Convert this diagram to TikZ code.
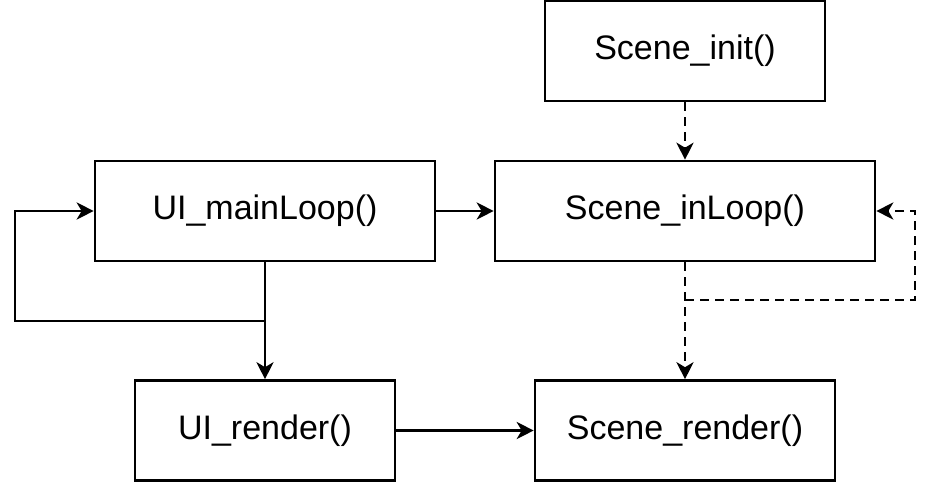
\documentclass[tikz,border=0pt]{standalone}
\usepackage{fontspec}
\setmainfont{Liberation Sans}
\usetikzlibrary{arrows.meta}
\begin{document}
\begin{tikzpicture}[x=1pt,y=-1pt,
 box/.style={draw, line width=2.6pt, inner sep=0pt, font=\fontsize{34}{40}\selectfont},
 arr/.style={line width=2.6pt, -{Stealth[length=17pt,width=17pt,inset=5pt]}},
 dsh/.style={arr, dash pattern=on 9pt off 6pt}]
\fill[white] (0,0) rectangle (932,482);
\useasboundingbox (0,0) rectangle (932,482);
\node[box, minimum width=280pt, minimum height=100pt] (init) at (685,51) {Scene\_init()};
\node[box, minimum width=340pt, minimum height=100pt] (main) at (265,211) {UI\_mainLoop()};
\node[box, minimum width=380pt, minimum height=100pt] (inloop) at (685,211) {Scene\_inLoop()};
\node[box, minimum width=260pt, minimum height=100pt] (uir) at (265,430.5) {UI\_render()};
\node[box, minimum width=300pt, minimum height=100pt] (sr) at (685,430.5) {Scene\_render()};
\coordinate (j1) at (265,321);
\coordinate (c1) at (15,321);
\coordinate (j2) at (685,300);
\coordinate (c2) at (915,300);
\draw[dsh] (init.south) -- (inloop.north);
\draw[arr] (main.east) -- (inloop.west);
\draw[arr] (main.south) -- (uir.north);
\draw[arr] (j1) -- (c1) |- (main.west);
\draw[dsh] (inloop.south) -- (sr.north);
\draw[dsh] (j2) -- (c2) |- (inloop.east);
\draw[arr] (uir.east) -- (sr.west);
\end{tikzpicture}
\end{document}
